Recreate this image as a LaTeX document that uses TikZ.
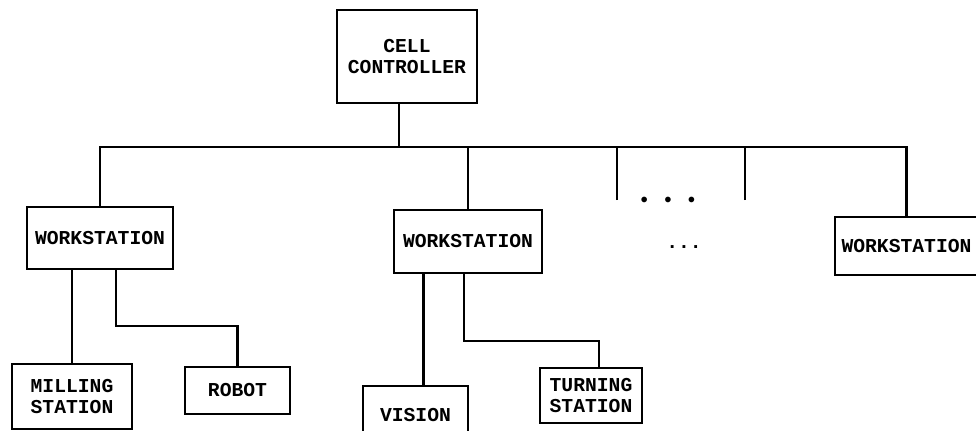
\documentclass[tikz,border=0pt]{standalone}
\usepackage{fontspec}
\newfontfamily\boxfont{Liberation Mono}
\usepackage{tikz}
\usetikzlibrary{positioning}

\begin{document}
\begin{tikzpicture}[
  x=0.025cm, y=-0.025cm,
  font=\boxfont\bfseries\fontsize{14}{14.5}\selectfont,
  unit/.style={draw, line width=1.5pt, align=center, inner sep=0pt},
  link/.style={line width=1.5pt},
  gap/.style={inner sep=0pt}
]
\useasboundingbox (0,0) rectangle (976,430);
\coordinate (bus) at (0,147);
\node[unit, minimum width=3.5cm, minimum height=2.325cm] (cell) at (407,56.5) {CELL\\CONTROLLER};
\node[unit, minimum width=3.65cm, minimum height=1.55cm] (wsa) at (100,238) {WORKSTATION};
\node[unit, minimum width=3.7cm, minimum height=1.575cm] (wsb) at (468,241.5) {WORKSTATION};
\node[unit, minimum width=3.575cm, minimum height=1.45cm] (wsc) at (906.5,246) {WORKSTATION};
\node[unit, minimum width=3cm, minimum height=1.625cm] (mill) at (72,396.5) {MILLING\\STATION};
\node[unit, minimum width=2.625cm, minimum height=1.175cm] (robot) at (237.5,390.5) {ROBOT};
\node[unit, minimum width=2.625cm, minimum height=1.475cm] (vision) at (415.5,415.5) {VISION};
\node[unit, minimum width=2.55cm, minimum height=1.375cm] (turn) at (591,395.5) {TURNING\\STATION};
% the elided branch
\coordinate (ela) at (617,200);
\coordinate (elb) at (745,200);
\node[gap] (dotsa) at (668,202) {\textbullet\ \textbullet\ \textbullet};
\node[gap] (dotsb) at (684,247) {...};
% bus
\draw[link] ([xshift=-2mm]cell.south) -- ([xshift=-2mm]cell.south |- bus);
\draw[link] (wsa.north) -- (wsa.north |- bus) -- (wsc.north |- bus) -- (wsc.north);
\draw[link] (wsb.north) -- (wsb.north |- bus);
\draw[link] (ela) -- (ela |- bus);
\draw[link] (elb) -- (elb |- bus);
% workstation to devices
\draw[link] (mill.north |- wsa.south) -- (mill.north);
\draw[link] ([xshift=4mm]wsa.south) |- ([yshift=10mm]robot.north) -- (robot.north);
\draw[link] ([xshift=2mm]vision.north |- wsb.south) -- ([xshift=2mm]vision.north);
\draw[link] ([xshift=-1mm]wsb.south) |- ([yshift=6.5mm,xshift=2mm]turn.north) -- ([xshift=2mm]turn.north);
\end{tikzpicture}
\end{document}
